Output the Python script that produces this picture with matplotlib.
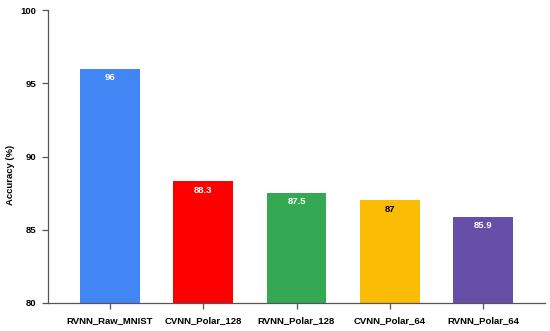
import matplotlib
matplotlib.use("Agg")
import matplotlib.pyplot as plt

categories = ["RVNN_Raw_MNIST", "CVNN_Polar_128", "RVNN_Polar_128", "CVNN_Polar_64", "RVNN_Polar_64"]
accuracy = [96, 88.3, 87.5, 87, 85.9]
colors = ["#4285F4", "#FF0000", "#34A853", "#FBBC05", "#674EA7"]
label_colors = ["white", "white", "white", "black", "white"]
yticks = [80, 85, 90, 95, 100]

plt.rcParams["font.family"] = ["Liberation Sans", "DejaVu Sans"]
fig = plt.figure(figsize=(5.5, 3.31), dpi=100)
ax = fig.add_axes([48/550, 1-303/331, (545-48)/550, (303-10)/331])

x = list(range(len(categories)))
ax.bar(x, accuracy, width=0.643, color=colors, zorder=2)
for xi, v, lc in zip(x, accuracy, label_colors):
    ax.annotate(f"{v:g}", (xi, v), xytext=(0, -6.3), textcoords="offset points",
                ha="center", va="center", color=lc, fontsize=6.8, fontweight="bold")

ax.set_xlim(-0.664, 4.664)
ax.set_ylim(80, 100)
ax.set_yticks(yticks)
ax.set_xticks(x)
ax.set_xticklabels(categories, fontsize=6.8, fontweight="bold")
ax.set_yticklabels([str(t) for t in yticks], fontsize=6.8, fontweight="bold")
for s in ["top", "right"]:
    ax.spines[s].set_visible(False)
for s in ["left", "bottom"]:
    ax.spines[s].set_color("#555555")
    ax.spines[s].set_linewidth(0.9)
ax.tick_params(axis="both", colors="#555555", labelcolor="black", length=4.5, width=0.9, pad=4)
ax.tick_params(axis="x", pad=5)
ax.set_ylabel("Accuracy (%)", fontsize=6.8, fontweight="bold")
ax.yaxis.set_label_coords(-0.0655, 0.437)

fig.savefig("out.png", dpi=100)
